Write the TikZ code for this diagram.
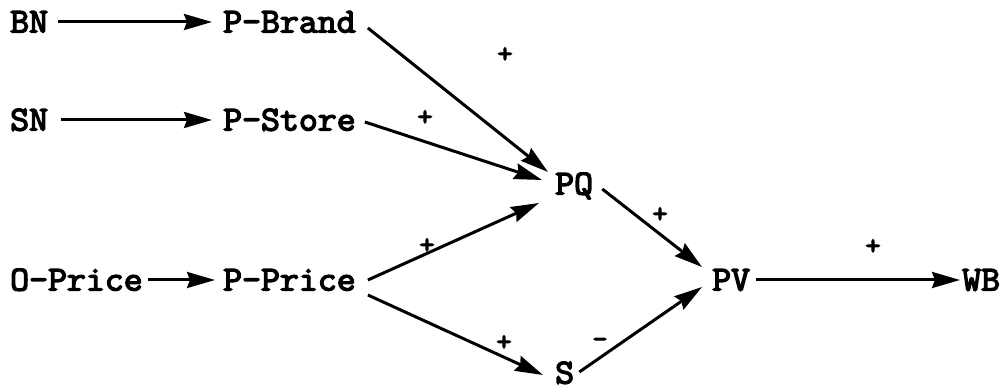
\documentclass[tikz,border=0pt]{standalone}
\usepackage{fontspec}
\newfontfamily\tfont[FakeBold=4,FakeStretch=1.05]{Latin Modern Mono}
\usetikzlibrary{arrows.meta}
\begin{document}
\begin{tikzpicture}[x=1pt,y=1pt,
  lbl/.style={inner sep=0pt,text height=21pt,text depth=0pt,font=\tfont\fontsize{35}{35}\selectfont},
  sgn/.style={inner sep=0pt,font=\tfont\fontsize{28}{28}\selectfont},
  arr/.style={line width=3pt,-{Stealth[length=28pt,width=16pt,inset=3pt]}}]
\useasboundingbox (0,0) rectangle (1006,390);
\node[lbl,anchor=west] (BN) at (10,368) {BN};
\node[lbl,anchor=west] (PB) at (223,368) {P-Brand};
\node[lbl,anchor=west] (SN) at (10,270) {SN};
\node[lbl,anchor=west] (PS) at (223,270) {P-Store};
\node[lbl,anchor=west] (OP) at (10,110) {O-Price};
\node[lbl,anchor=west] (PP) at (223,110) {P-Price};
\node[lbl,anchor=west] (PQ) at (555,206) {PQ};
\node[lbl,anchor=west] (S) at (555,17) {S};
\node[lbl,anchor=west] (PV) at (712,110) {PV};
\node[lbl,anchor=west] (WB) at (962,110) {WB};
\draw[arr,shorten <=10pt,shorten >=2pt] (BN.east) -- ([xshift=-9pt]PB.west);
\draw[arr,shorten <=13pt,shorten >=2pt] (SN.east) -- ([xshift=-9pt]PS.west);
\draw[arr,shorten <=5pt,shorten >=2pt] (OP.east) -- ([xshift=-6pt]PP.west);
\draw[arr,shorten <=6pt] (PV.east) -- ([xshift=-2pt]WB.west);
\draw[arr] ([shift={(12,-6)}]PB.east) -- ([shift={(-7,12)}]PQ.west);
\draw[arr] ([shift={(9,-2)}]PS.east) -- ([shift={(-13,4)}]PQ.west);
\draw[arr] ([shift={(12,0)}]PP.east) -- ([shift={(-16,-19)}]PQ.west);
\draw[arr] ([shift={(12,-15)}]PP.east) -- ([shift={(-12,-2)}]S.west);
\draw[arr] ([shift={(9,-5)}]PQ.east) -- ([shift={(-10,13)}]PV.west);
\draw[arr] ([shift={(5,1)}]S.east) -- ([shift={(-10,-7)}]PV.west);
\node[sgn] (s1) at (505,335) {+};
\node[sgn] (s2) at (425,272) {+};
\node[sgn] (s3) at (427,144) {+};
\node[sgn] (s4) at (504,47) {+};
\node[sgn] (s5) at (600,47) {-};
\node[sgn] (s6) at (660,175) {+};
\node[sgn] (s7) at (873,143) {+};
\end{tikzpicture}
\end{document}
